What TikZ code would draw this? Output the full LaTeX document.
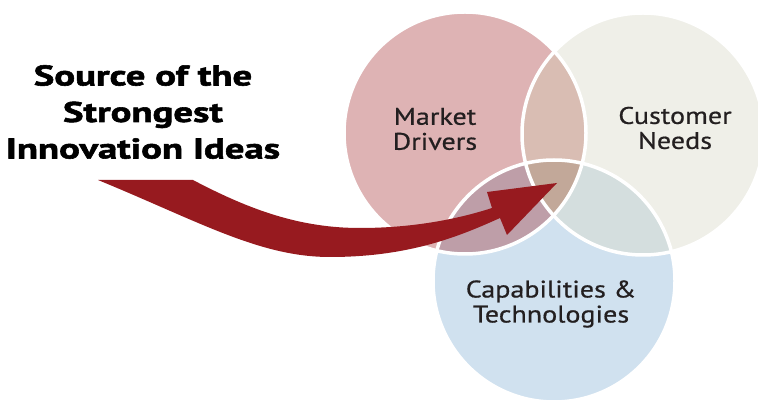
\documentclass[tikz,border=0pt]{standalone}
\usepackage{fontspec}
\setmainfont{PT Sans}
\newfontfamily\lblfont{PT Sans}[FakeStretch=1.17,FakeBold=0.6]
\newfontfamily\ttlfont{PT Sans Bold}[FakeStretch=1.36,FakeBold=2]
\definecolor{cpink}{HTML}{DEB3B4}
\definecolor{ccream}{HTML}{EFEFE8}
\definecolor{cblue}{HTML}{D0E1EF}
\definecolor{cpc}{HTML}{D9BDB3}
\definecolor{cpb}{HTML}{BE9EA8}
\definecolor{ccb}{HTML}{D4DEDE}
\definecolor{cpcb}{HTML}{C2A899}
\definecolor{carrow}{HTML}{971A1F}
\definecolor{ctext}{HTML}{231F20}
\begin{document}
\begin{tikzpicture}[x=1pt,y=-1pt,
  lbl/.style={text=ctext,align=center,font=\lblfont\fontsize{24}{25}\selectfont,inner sep=0pt},
  ttl/.style={text=black,align=center,font=\ttlfont\fontsize{28.5}{36.5}\selectfont,inner sep=0pt},
  ring/.style={draw=white,line width=3.5pt}]
\useasboundingbox (0,0) rectangle (758,403);
\coordinate (A) at (465,133);
\coordinate (B) at (643,134);
\coordinate (C) at (554,281);
\def\R{121pt}
% base circles
\fill[cpink] (A) circle (\R);
\fill[ccream] (B) circle (\R);
\fill[cblue] (C) circle (\R);
% pairwise overlaps
\begin{scope}\clip (A) circle (\R); \fill[cpc] (B) circle (\R); \end{scope}
\begin{scope}\clip (A) circle (\R); \fill[cpb] (C) circle (\R); \end{scope}
\begin{scope}\clip (B) circle (\R); \fill[ccb] (C) circle (\R); \end{scope}
\begin{scope}\clip (A) circle (\R); \clip (B) circle (\R); \fill[cpcb] (C) circle (\R); \end{scope}
% white outlines
\draw[ring] (A) circle (\R);
\draw[ring] (B) circle (\R);
\draw[ring] (C) circle (\R);
% arrow
\fill[carrow] (98,180) -- (193,180)
  .. controls (250,210) and (300,228) .. (360,228)
  .. controls (410,228) and (455,220) .. (492,208)
  -- (487,192) -- (557,183) -- (507,235) -- (500,218)
  .. controls (460,236) and (410,257) .. (330,257)
  .. controls (260,257) and (200,222) .. (98,180) -- cycle;
% labels
\node[lbl] (md) at (435,129) {Market\\Drivers};
\node[lbl] (cn) at (675,128) {Customer\\Needs};
\node[lbl] (ct) at (551,304) {Capabilities \&\\Technologies};
\node[ttl] (src) at (143,112) {Source of the\\Strongest\\Innovation Ideas};
\end{tikzpicture}
\end{document}
